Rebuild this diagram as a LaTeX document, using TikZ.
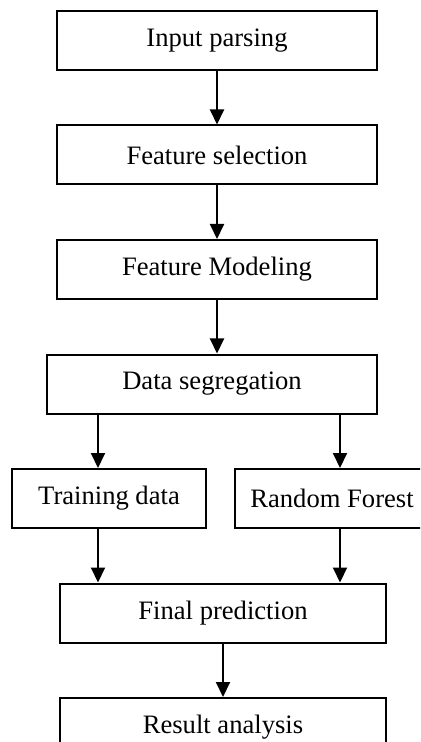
\documentclass[tikz,border=0pt]{standalone}
\usepackage{fontspec}
\setmainfont{Liberation Serif}
\usetikzlibrary{arrows.meta, positioning}
\tikzset{
  block/.style={
    rectangle,
    minimum width=160pt,
    minimum height=29.5pt,
    text centered,
    draw=black,
    line width=1pt,
    font=\fontsize{13.3}{16}\selectfont
  },
  arrow/.style={
    -{Triangle[width=7pt,length=7.5pt]},
    line width=1pt
  }
}

\begin{document}
\begin{tikzpicture}[node distance=26.75pt]
\clip (0,0) rectangle (210pt,-371pt);

% Nodes
\node[block] (input) at (108.5pt,-20.25pt) {Input parsing};
\node[block, below=of input] (select) {Feature selection};
\node[block, below=of select] (model) {Feature Modeling};
\node[block, minimum width=165pt, below=of model, xshift=-2.5pt] (seg) {Data segregation};
\node[block, minimum width=97pt, below=of seg, xshift=-51.5pt] (train) {Training data};
\node[block, minimum width=97pt, right=13.5pt of train] (forest) {Random Forest};
\node[block, minimum width=163pt, below=of train, xshift=57pt] (final) {Final prediction};
\node[block, minimum width=163pt, below=of final] (result) {Result analysis};

% Split columns
\coordinate (tcol) at ([xshift=-5.5pt]train.north);
\coordinate (fcol) at ([xshift=4pt]forest.north);

% Vertical arrows
\draw[arrow] (input) -- (select);
\draw[arrow] (select) -- (model);
\draw[arrow] (model.south) -- (model.south |- seg.north);
\draw[arrow] (tcol |- seg.south) -- (tcol);
\draw[arrow] (fcol |- seg.south) -- (fcol);
\draw[arrow] (tcol |- train.south) -- (tcol |- final.north);
\draw[arrow] (fcol |- forest.south) -- (fcol |- final.north);
\draw[arrow] (final) -- (result);

\end{tikzpicture}
\end{document}
